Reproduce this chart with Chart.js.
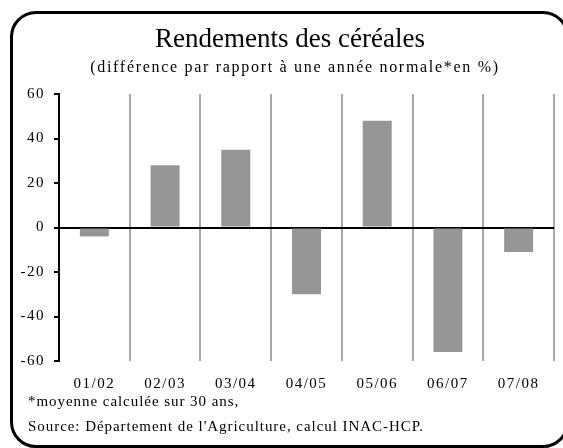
<!DOCTYPE html>
<html>
<head>
<meta charset="utf-8">
<script src="https://cdn.jsdelivr.net/npm/chart.js@4/dist/chart.umd.min.js"></script>
<style>
    body { margin: 0; background: #fff; overflow: hidden; }
    #wrap { position: relative; width: 563px; height: 448px; overflow: hidden; }
    #frame {
        position: absolute; left: 10px; top: 11px; width: 553px; height: 431px;
        border: 3px solid #000; border-radius: 26px;
    }
    canvas { position: absolute; left: 0; top: 0; }
    .txt { position: absolute; font-family: 'Liberation Serif', 'Times New Roman', serif; color: #000; white-space: nowrap; }
    #title { left: 0; width: 580px; top: 25px; text-align: center; font-size: 27px; line-height: 27px; }
    #subtitle { left: 0; width: 590px; top: 59px; text-align: center; font-size: 16px; line-height: 16px; letter-spacing: 1.7px; }
    .note { left: 28px; font-size: 15px; line-height: 15px; letter-spacing: 0.95px; }
</style>
</head>
<body>
<div id="wrap">
    <div id="frame"></div>
    <canvas id="chart" width="563" height="448"></canvas>
    <div class="txt" id="title">Rendements des céréales</div>
    <div class="txt" id="subtitle">(différence par rapport à une année normale*en %)</div>
    <div class="txt note" style="top: 394px;">*moyenne calculée sur 30 ans,</div>
    <div class="txt note" style="top: 419px;">Source: Département de l'Agriculture, calcul INAC-HCP.</div>
</div>
<script>
// Campaign years and yield difference vs a normal year (%)
const campaigns = ['01/02', '02/03', '03/04', '04/05', '05/06', '06/07', '07/08'];
const yieldDiff = [-4, 28, 35, -30, 48, -56, -11];
const yMin = -60;
const yMax = 60;
const yStep = 20;

const serif = "'Liberation Serif', 'Times New Roman', serif";

// canvas text gets a bit of letter spacing like the original
const spacingPlugin = {
    id: 'spacing',
    beforeDraw(chart) {
        chart.ctx.letterSpacing = '1.5px';
    }
};

new Chart(document.getElementById('chart'), {
    type: 'bar',
    data: {
        labels: campaigns,
        datasets: [{
            data: yieldDiff,
            backgroundColor: '#969696',
            barPercentage: 0.41,
            categoryPercentage: 1
        }]
    },
    options: {
        responsive: false,
        animation: false,
        layout: { padding: { top: 94, right: 9, left: 0, bottom: 0 } },
        plugins: {
            legend: { display: false },
            tooltip: { enabled: false }
        },
        scales: {
            x: {
                grid: { offset: true, color: '#a8a8a8', lineWidth: 2, drawTicks: false },
                border: { display: false },
                ticks: { color: '#000', padding: 14, font: { family: serif, size: 15 } },
                afterFit: (scale) => { scale.height = 87; }
            },
            y: {
                min: yMin,
                max: yMax,
                z: 1,
                grid: {
                    color: (ctx) => (ctx.tick && ctx.tick.value === 0 ? '#000' : 'rgba(0,0,0,0)'),
                    lineWidth: 2,
                    tickLength: 5,
                    tickColor: '#000',
                    tickWidth: 2
                },
                border: { color: '#000', width: 2 },
                ticks: { stepSize: yStep, color: '#000', padding: 9, font: { family: serif, size: 15 } },
                afterFit: (scale) => { scale.width = 59; }
            }
        }
    },
    plugins: [spacingPlugin]
});
</script>
</body>
</html>
